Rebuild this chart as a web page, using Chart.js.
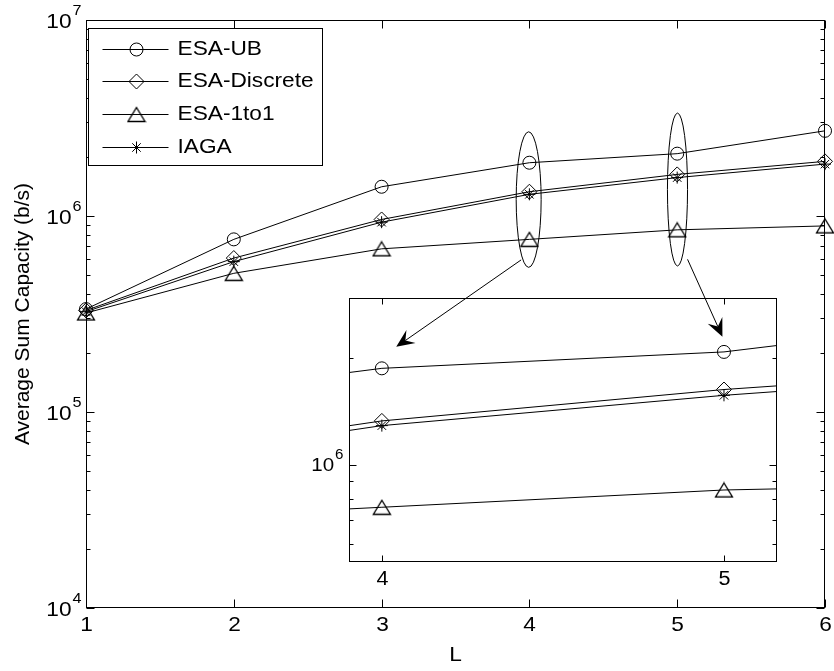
<!DOCTYPE html>
<html>
<head>
<meta charset="utf-8">
<title>Average Sum Capacity vs L</title>
<script src="https://cdn.jsdelivr.net/npm/chart.js@4.4.0/dist/chart.umd.min.js"></script>
<style>
  html, body { margin: 0; padding: 0; background: #fff; }
  #wrap { position: relative; width: 834px; height: 671px; overflow: hidden; }
  #main { position: absolute; left: 0; top: 0; }
  #inset { position: absolute; left: 300px; top: 285px; }
</style>
</head>
<body>
<div id="wrap">
  <canvas id="main" width="834" height="671"></canvas>
  <canvas id="inset" width="490" height="320"></canvas>
</div>
<script>
// ---- data ----
const L_VALUES = [1, 2, 3, 4, 5, 6];
const ESA_UB = [3.35e5, 7.6e5, 1.41e6, 1.87e6, 2.08e6, 2.72e6];
const ESA_DISCRETE = [3.30e5, 6.1e5, 9.6e5, 1.33e6, 1.63e6, 1.90e6];
const ESA_1TO1 = [3.20e5, 5.1e5, 6.8e5, 7.6e5, 8.5e5, 8.9e5];
const IAGA = [3.25e5, 5.85e5, 9.3e5, 1.29e6, 1.57e6, 1.84e6];
const SERIES_NAMES = ['ESA-UB', 'ESA-Discrete', 'ESA-1to1', 'IAGA'];

const X_TICKS = [1, 2, 3, 4, 5, 6];
const Y_LABEL_DECADES = [4, 5, 6, 7];
const INSET_X_TICKS = [4, 5];
const INSET_Y_LABEL_DECADES = [6];

const X_TITLE = 'L';
const Y_TITLE = 'Average Sum Capacity (b/s)';

// ---- styling ----
const FONT = '"Liberation Sans", Arial, Helvetica, sans-serif';
const TEXT_STRETCH = 1.08;

// upward triangle marker, centred on its bounding box
function makeTriangle() {
  const c = document.createElement('canvas');
  c.width = 20; c.height = 17;
  const g = c.getContext('2d');
  g.strokeStyle = '#000'; g.lineWidth = 1.35;
  g.lineJoin = 'miter';
  g.beginPath();
  g.moveTo(10, 1.5); g.lineTo(18.5, 15.5); g.lineTo(1.5, 15.5);
  g.closePath(); g.stroke();
  return c;
}
const TRIANGLE = makeTriangle();

const MARKERS = [
  { pointStyle: 'circle', radius: 6.5 },
  { pointStyle: 'rectRot', radius: 7.5 },
  { pointStyle: TRIANGLE, radius: 8 },
  { pointStyle: 'star', radius: 6 }
];
const SERIES_VALUES = [ESA_UB, ESA_DISCRETE, ESA_1TO1, IAGA];

function buildDatasets(clip) {
  return SERIES_NAMES.map((name, i) => ({
    label: name,
    data: SERIES_VALUES[i].map((v, k) => ({ x: L_VALUES[k], y: v })),
    borderColor: '#000',
    borderWidth: 1,
    backgroundColor: 'rgba(0,0,0,0)',
    pointStyle: MARKERS[i].pointStyle,
    pointRadius: MARKERS[i].radius,
    pointBorderColor: '#000',
    pointBackgroundColor: 'rgba(0,0,0,0)',
    pointBorderWidth: 1,
    fill: false,
    tension: 0,
    clip: clip
  }));
}

// ---- drawing helpers ----
function line(ctx, x1, y1, x2, y2) {
  ctx.beginPath(); ctx.moveTo(x1, y1); ctx.lineTo(x2, y2); ctx.stroke();
}

function text(ctx, str, x, y, align, size, stretch) {
  ctx.font = size + 'px ' + FONT;
  const w = ctx.measureText(str).width * stretch;
  const x0 = align === 'center' ? x - w / 2 : align === 'right' ? x - w : x;
  ctx.save();
  ctx.translate(x0, y);
  ctx.scale(stretch, 1);
  ctx.textAlign = 'left';
  ctx.textBaseline = 'middle';
  ctx.fillText(str, 0, 0);
  ctx.restore();
  return w;
}

function powerLabel(ctx, exp, xRight, y, t) {
  const sup = String(exp);
  ctx.font = t.sup + 'px ' + FONT;
  const ws = ctx.measureText(sup).width * TEXT_STRETCH;
  ctx.font = t.base + 'px ' + FONT;
  const wb = ctx.measureText('10').width * TEXT_STRETCH;
  const x0 = xRight - ws - wb - 1;
  text(ctx, '10', x0, y + t.baseDy, 'left', t.base, TEXT_STRETCH);
  text(ctx, sup, x0 + wb + 1, y + t.supDy, 'left', t.sup, TEXT_STRETCH);
}

// box, inward ticks (log minor ticks on y) and tick labels
function drawAxes(chart, cfg) {
  const { ctx, chartArea: a } = chart;
  const xs = chart.scales.x, ys = chart.scales.y;
  const left = Math.round(a.left) + 0.5, right = Math.round(a.right) - 0.5;
  const top = Math.round(a.top) + 0.5, bottom = Math.round(a.bottom) - 0.5;
  ctx.save();
  ctx.strokeStyle = '#000';
  ctx.fillStyle = '#000';
  ctx.lineWidth = 1;
  ctx.strokeRect(left, top, right - left, bottom - top);

  cfg.xTicks.forEach(v => {
    const px = Math.round(xs.getPixelForValue(v)) + 0.5;
    line(ctx, px, bottom, px, bottom - cfg.xTick);
    line(ctx, px, top, px, top + cfg.xTick);
    text(ctx, String(v), px, bottom + cfg.xLabelGap, 'center', cfg.font, TEXT_STRETCH);
  });

  const lo = Math.floor(Math.log10(ys.min)), hi = Math.ceil(Math.log10(ys.max));
  for (let e = lo; e <= hi; e++) {
    for (let m = 1; m <= 9; m++) {
      const v = m * Math.pow(10, e);
      if (v < ys.min * 0.9999 || v > ys.max * 1.0001) continue;
      const py = Math.round(ys.getPixelForValue(v)) + 0.5;
      const len = m === 1 ? cfg.yMajor : cfg.yMinor;
      line(ctx, left, py, left + len, py);
      line(ctx, right, py, right - len, py);
      if (m === 1 && cfg.yDecades.includes(e)) {
        powerLabel(ctx, e, left - cfg.yLabelGap, py, cfg.power);
      }
    }
  }
  ctx.restore();
}

// ellipses around the L = 4 and L = 5 groups, with arrows into the zoom box
const CALLOUTS = [
  { L: 3.995, top: 2.69e6, bottom: 5.47e5, halfWidth: 0.0845, from: [3.944, 5.97e5], to: [3.099, 2.15e5] },
  { L: 5.002, top: 3.35e6, bottom: 5.56e5, halfWidth: 0.068, from: [5.070, 6.01e5], to: [5.306, 2.42e5] }
];

function arrow(ctx, x1, y1, x2, y2, len, half) {
  const ang = Math.atan2(y2 - y1, x2 - x1);
  const ux = Math.cos(ang), uy = Math.sin(ang);
  const px = -uy, py = ux;
  const bx = x2 - ux * len, by = y2 - uy * len;
  const nx = x2 - ux * len * 0.62, ny = y2 - uy * len * 0.62;
  line(ctx, x1, y1, nx, ny);
  ctx.beginPath();
  ctx.moveTo(x2, y2);
  ctx.lineTo(bx + px * half, by + py * half);
  ctx.lineTo(nx, ny);
  ctx.lineTo(bx - px * half, by - py * half);
  ctx.closePath();
  ctx.fill();
}

function drawCallouts(ctx, chart, offX, offY) {
  const xs = chart.scales.x, ys = chart.scales.y;
  ctx.save();
  ctx.translate(offX, offY);
  ctx.strokeStyle = '#000';
  ctx.fillStyle = '#000';
  ctx.lineWidth = 1;
  CALLOUTS.forEach(c => {
    const cx = xs.getPixelForValue(c.L);
    const yt = ys.getPixelForValue(c.top), yb = ys.getPixelForValue(c.bottom);
    const rx = xs.getPixelForValue(c.L + c.halfWidth) - cx;
    ctx.beginPath();
    ctx.ellipse(cx, (yt + yb) / 2, rx, (yb - yt) / 2, 0, 0, Math.PI * 2);
    ctx.stroke();
    arrow(ctx,
      xs.getPixelForValue(c.from[0]), ys.getPixelForValue(c.from[1]),
      xs.getPixelForValue(c.to[0]), ys.getPixelForValue(c.to[1]), 18, 8);
  });
  ctx.restore();
}

function drawLegend(chart) {
  const { ctx, chartArea: a } = chart;
  const bx = Math.round(a.left) + 2.5, by = Math.round(a.top) + 8.5;
  const bw = 234, bh = 137;
  ctx.save();
  ctx.fillStyle = '#fff';
  ctx.fillRect(bx, by, bw, bh);
  ctx.strokeStyle = '#000';
  ctx.lineWidth = 1;
  ctx.strokeRect(bx, by, bw, bh);
  SERIES_NAMES.forEach((name, i) => {
    const y = Math.round(by + 20 + i * 32.8) + 0.5;
    line(ctx, bx + 14, y, bx + 80, y);
    ctx.fillStyle = 'rgba(0,0,0,0)';
    Chart.helpers.drawPoint(ctx, {
      pointStyle: MARKERS[i].pointStyle, radius: MARKERS[i].radius,
      rotation: 0, borderWidth: 1
    }, bx + 48, y);
    ctx.fillStyle = '#000';
    text(ctx, name, bx + 89, y, 'left', 21, TEXT_STRETCH);
  });
  ctx.restore();
}

// ---- main chart ----
const mainCfg = {
  xTicks: X_TICKS, yDecades: Y_LABEL_DECADES,
  xTick: 8, yMajor: 8, yMinor: 4,
  xLabelGap: 18, yLabelGap: 5, font: 21,
  power: { base: 21, sup: 15, baseDy: 2, supDy: -9.5 }
};

const mainChart = new Chart(document.getElementById('main'), {
  type: 'line',
  data: { datasets: buildDatasets(false) },
  options: {
    responsive: false,
    animation: false,
    devicePixelRatio: 1,
    layout: { padding: { left: 86, top: 20, right: 8, bottom: 63 } },
    plugins: { legend: { display: false }, tooltip: { enabled: false } },
    scales: {
      x: { type: 'linear', min: 1, max: 6, display: false },
      y: { type: 'logarithmic', min: 1e4, max: 1e7, display: false }
    }
  },
  plugins: [{
    id: 'mainDecor',
    beforeDraw(chart) {
      const ctx = chart.ctx;
      ctx.save();
      ctx.fillStyle = '#fff';
      ctx.fillRect(0, 0, chart.width, chart.height);
      ctx.restore();
    },
    afterDatasetsDraw(chart) {
      drawCallouts(chart.ctx, chart, 0, 0);
    },
    afterDraw(chart) {
      drawAxes(chart, mainCfg);
      drawLegend(chart);
      const { ctx, chartArea: a } = chart;
      ctx.save();
      ctx.fillStyle = '#000';
      text(ctx, X_TITLE, (a.left + a.right) / 2, 655, 'center', 21, TEXT_STRETCH);
      ctx.translate(23, (a.top + a.bottom) / 2);
      ctx.rotate(-Math.PI / 2);
      ctx.font = '21px ' + FONT;
      ctx.textAlign = 'center';
      ctx.textBaseline = 'middle';
      ctx.fillText(Y_TITLE, 0, 0);
      ctx.restore();
    }
  }]
});

// ---- zoomed view of L = 4..5 ----
const INSET_LEFT = 300, INSET_TOP = 285;
const insetCfg = {
  xTicks: INSET_X_TICKS, yDecades: INSET_Y_LABEL_DECADES,
  xTick: 6, yMajor: 7, yMinor: 4,
  xLabelGap: 18, yLabelGap: 6, font: 20,
  power: { base: 19, sup: 14, baseDy: 0, supDy: -10 }
};

new Chart(document.getElementById('inset'), {
  type: 'line',
  data: { datasets: buildDatasets(undefined) },
  options: {
    responsive: false,
    animation: false,
    devicePixelRatio: 1,
    layout: { padding: { left: 49, top: 13, right: 13, bottom: 43 } },
    plugins: { legend: { display: false }, tooltip: { enabled: false } },
    scales: {
      x: { type: 'linear', min: 3.904, max: 5.155, display: false },
      y: { type: 'logarithmic', min: 5.33e5, max: 2.95e6, display: false }
    }
  },
  plugins: [{
    id: 'insetDecor',
    beforeDatasetsDraw(chart) {
      const { ctx, chartArea: a } = chart;
      ctx.save();
      ctx.fillStyle = '#fff';
      ctx.fillRect(a.left, a.top, a.right - a.left, a.bottom - a.top);
      ctx.restore();
    },
    afterDraw(chart) {
      const { ctx, chartArea: a } = chart;
      ctx.save();
      ctx.beginPath();
      ctx.rect(a.left, a.top, a.right - a.left, a.bottom - a.top);
      ctx.clip();
      drawCallouts(ctx, mainChart, -INSET_LEFT, -INSET_TOP);
      ctx.restore();
      drawAxes(chart, insetCfg);
    }
  }]
});
</script>
</body>
</html>
